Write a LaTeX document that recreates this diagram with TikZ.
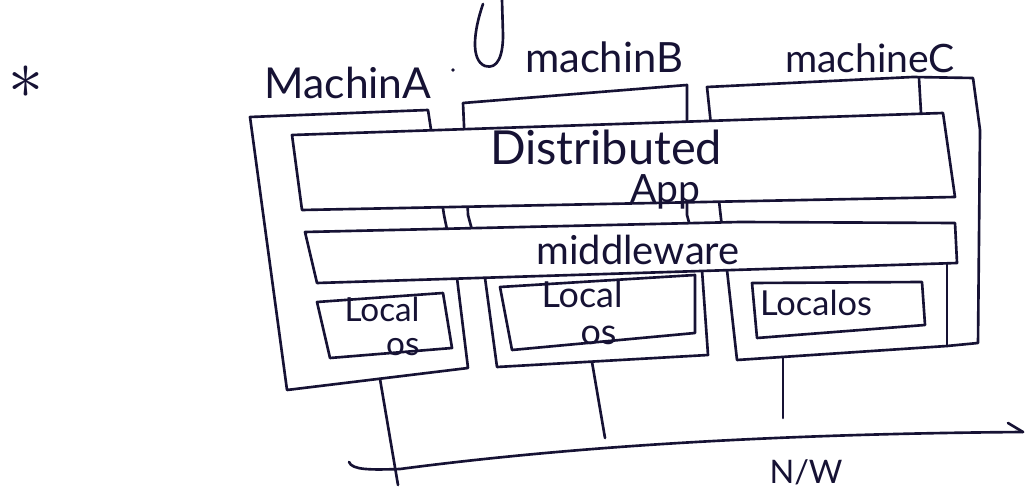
\documentclass[tikz,border=0pt]{standalone}
\usepackage{fontspec}
\setmainfont{Lato}
\usepackage{graphicx}
\definecolor{ink}{RGB}{22,18,52}
% scale a label to a given width
\newcommand{\hw}[2]{\resizebox{#1}{!}{#2}}

\begin{document}
\begin{tikzpicture}[x=0.02cm,y=-0.02cm,
  pen/.style={draw=ink, line width=1.5pt, line join=round, line cap=round},
  panel/.style={pen, fill=white},
  lbl/.style={inner sep=0pt, text=ink, anchor=center}]
\useasboundingbox (0,0) rectangle (1026,499);
\fill[white] (0,0) rectangle (1026,499);

% descender loop of the heading line above
\draw[pen] (483,4) .. controls (474,30) and (470,60) .. (485,66)
           .. controls (498,70) and (503,55) .. (503,35) -- (502,0);

% bullet
\node[lbl] (star) at (26,82) {\hw{0.7cm}{$\ast$}};

% machine outlines
\draw[pen] (250,117) -- (428,110) -- (444,215) -- (457,278) -- (468,368)
           -- (287,390) -- cycle;
\draw[pen] (463,103) -- (687,85) -- (687,215) -- (702,270) -- (708,355)
           -- (497,367) -- (485,278) -- (468,215) -- cycle;
\draw[pen] (707,87) -- (913,77) -- (973,78) -- (980,130) -- (978,343)
           -- (947,346) -- (737,360) -- (727,270) -- (720,210) -- cycle;
\draw[pen] (919,78) -- (921,113);
\draw[pen] (947,262) -- (947,346);

% machine names
\node[lbl] (nA) at (348,83) {\hw{3.34cm}{MachinA}};
\fill[ink] (453,70) circle[radius=1.8];
\node[lbl] (nB) at (604,57) {\hw{3.16cm}{machinB}};
\node[lbl] (nC) at (870,58) {\hw{3.40cm}{machineC}};

% shared layers
\draw[panel] (292,135) -- (943,113) -- (955,197) -- (302,210) -- cycle;
\node[lbl] (da1) at (606,147) {\hw{4.64cm}{Distributed}};
\node[lbl] (da2) at (665,192) {\hw{1.40cm}{App}};

\draw[panel] (305,232) -- (740,222) -- (955,223) -- (957,263) -- (317,283) -- cycle;
\node[lbl] (mw) at (638,250) {\hw{4.06cm}{middleware}};

% local operating systems
\draw[panel] (317,302) -- (443,293) -- (452,348) -- (330,358) -- cycle;
\node[lbl] (osA) at (382,326) {\hw{1.50cm}{\shortstack[r]{Local\\[2pt]os}}};

\draw[panel] (500,287) -- (695,275) -- (695,333) -- (512,350) -- cycle;
\node[lbl] (osB) at (582,313) {\hw{1.62cm}{\shortstack[r]{Local\\[2pt]os\,}}};

\draw[panel] (752,283) -- (922,282) -- (925,325) -- (757,338) -- cycle;
\node[lbl] (osC) at (816,303) {\hw{2.24cm}{Localos}};

% network
\coordinate (netS) at (349,462);
\coordinate (netM) at (400,469);
\coordinate (netE) at (1023,432);
\draw[pen] (netS) .. controls (352,470) and (370,470) .. (netM)
           .. controls (560,448) and (760,434) .. (netE);
\draw[pen] (1008,423) -- (netE);
\node[lbl] (nw) at (806,472) {\hw{1.46cm}{N/W}};

% links from machines to the network
\coordinate (aTop) at (380,379);
\coordinate (aEnd) at (398,485);
\coordinate (bTop) at (592,362);
\coordinate (bEnd) at (605,438);
\coordinate (cTop) at (783,357);
\coordinate (cEnd) at (783,418);
\draw[pen] (aTop) -- (aEnd);
\draw[pen] (bTop) -- (bEnd);
\draw[pen] (cTop) -- (cEnd);
\end{tikzpicture}
\end{document}
